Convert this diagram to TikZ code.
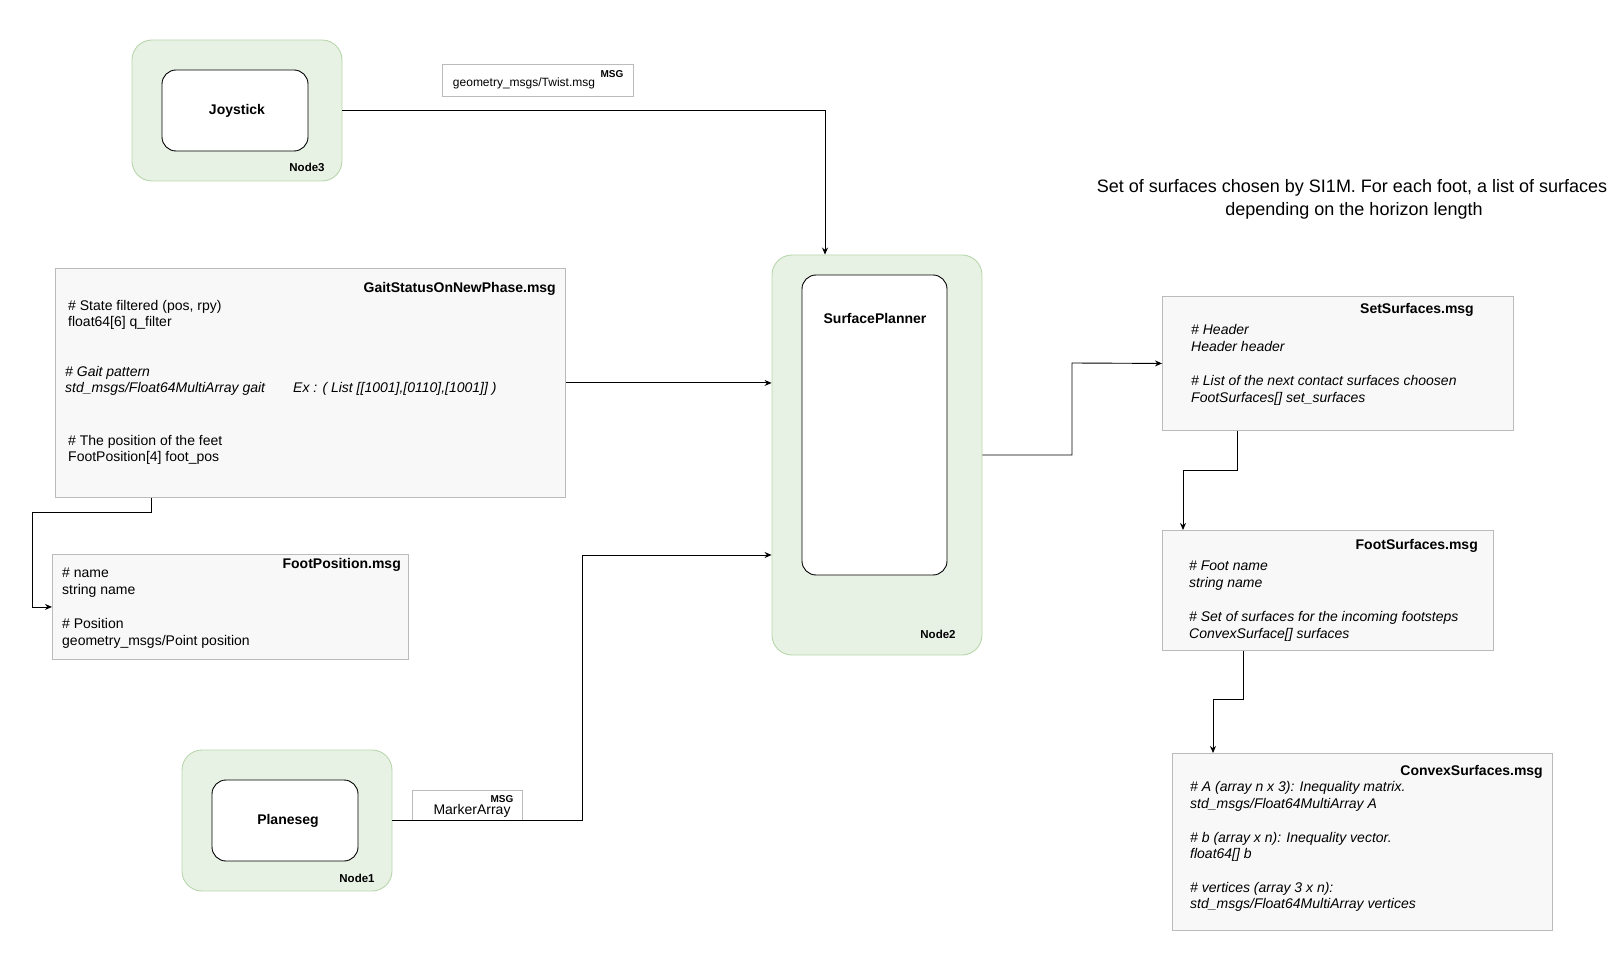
\documentclass[tikz,border=0pt]{standalone}
\usepackage{fontspec}
\setmainfont{Liberation Sans}
\usetikzlibrary{arrows.meta,calc}
\definecolor{grfill}{HTML}{E7F2E4}
\definecolor{grline}{HTML}{B7D6AC}
\definecolor{msgfill}{HTML}{F8F8F8}
\definecolor{msgline}{HTML}{BBBBBB}
\tikzset{
  hostbox/.style={draw=grline, fill=grfill, line width=0.9pt, rounded corners=20pt, minimum width=210pt, inner sep=0pt},
  procbox/.style={draw=black, fill=white, line width=0.9pt, rounded corners=14pt, inner sep=0pt},
  msgbox/.style={draw=msgline, fill=msgfill, line width=0.9pt, inner sep=0pt, anchor=north west},
  tagbox/.style={draw=msgline, fill=white, line width=0.9pt, inner sep=0pt},
  arr/.style={draw=black, line width=0.9pt, -{Stealth[length=7pt,width=6pt]}},
  txt/.style={inner sep=0pt, font=\fontsize{14}{17}\selectfont, anchor=base west},
  txti/.style={txt, font=\fontsize{14}{17}\selectfont\itshape},
  ttl/.style={inner sep=0pt, font=\fontsize{14}{17}\selectfont\bfseries, anchor=base east},
  lbl/.style={inner sep=0pt, font=\fontsize{14}{17}\selectfont\bfseries, anchor=base},
  hostlbl/.style={inner sep=0pt, font=\fontsize{11.5}{14}\selectfont\bfseries, anchor=base},
  msgtag/.style={inner sep=0pt, font=\fontsize{10}{12}\selectfont\bfseries, anchor=base},
}
\begin{document}
\begin{tikzpicture}[x=1pt,y=-1pt]
\useasboundingbox (0,0) rectangle (1615,957);

% host nodes
\node[hostbox, minimum height=141pt] (node3) at (237,110.5) {};
\node[procbox, minimum width=146pt, minimum height=81pt] (joy) at (235,110.5) {};
\node[lbl] (joyt) at (237,115) {Joystick};
\node[hostlbl] (node3t) at (307,172) {Node3};

\node[hostbox, minimum height=141pt] (node1) at (287,820.5) {};
\node[procbox, minimum width=146pt, minimum height=81pt] (plane) at (285,820.5) {};
\node[lbl] (planet) at (288,824) {Planeseg};
\node[hostlbl] (node1t) at (357,882) {Node1};

\node[hostbox, minimum height=400pt] (node2) at (877,455) {};
\node[procbox, minimum width=145pt, minimum height=300pt] (sp) at (874.5,425) {};
\node[lbl] (spt) at (875,324) {SurfacePlanner};
\node[hostlbl] (node2t) at (938,638) {Node2};

% topic tags
\node[tagbox, minimum width=191pt, minimum height=32pt] (twist) at (537.5,80) {};
\node[inner sep=0pt, font=\fontsize{12}{14}\selectfont, anchor=base] (twistt) at (524,87) {geometry\_msgs/Twist.msg};
\node[msgtag] (twistm) at (612,77.5) {MSG};

\node[tagbox, minimum width=110pt, minimum height=30pt] (marker) at (467,805) {};
\node[inner sep=0pt, font=\fontsize{14}{17}\selectfont, anchor=base] (markert) at (472,814) {MarkerArray};
\node[msgtag] (markerm) at (502,802.5) {MSG};

% message boxes
\node[msgbox, minimum width=510pt, minimum height=229pt] (gait) at (55,268) {};
\node[ttl] at (556,293) {GaitStatusOnNewPhase.msg};
\node[txt] at (68,311) {\# State filtered (pos, rpy)};
\node[txt] at (68,327) {float64[6] q\_filter};
\node[txti] at (65,377) {\# Gait pattern};
\node[txti] at (65,393) {std\_msgs/Float64MultiArray gait};
\node[txti] at (293,393) {Ex : ( List [[1001],[0110],[1001]] )};
\node[txt] at (68,446) {\# The position of the feet};
\node[txt] at (68,462) {FootPosition[4] foot\_pos};

\node[msgbox, minimum width=356pt, minimum height=105pt] (footpos) at (52,554) {};
\node[ttl] at (401,568) {FootPosition.msg};
\node[txt] at (62,577) {\# name};
\node[txt] at (62,594) {string name};
\node[txt] at (62,628) {\# Position};
\node[txt] at (62,645) {geometry\_msgs/Point position};

\node[msgbox, minimum width=351pt, minimum height=134pt] (setsurf) at (1162,296) {};
\node[ttl] at (1474,314) {SetSurfaces.msg};
\node[txti] at (1191,335) {\# Header};
\node[txti] at (1191,352) {Header header};
\node[txti] at (1191,386) {\# List of the next contact surfaces choosen};
\node[txti] at (1191,403) {FootSurfaces[] set\_surfaces};

\node[msgbox, minimum width=331pt, minimum height=120pt] (footsurf) at (1162,530) {};
\node[ttl] at (1478,549) {FootSurfaces.msg};
\node[txti] at (1189,570) {\# Foot name};
\node[txti] at (1189,587) {string name};
\node[txti] at (1189,621) {\# Set of surfaces for the incoming footsteps};
\node[txti] at (1189,638) {ConvexSurface[] surfaces};

\node[msgbox, minimum width=380pt, minimum height=177pt] (convex) at (1172,753) {};
\node[ttl] at (1543,775) {ConvexSurfaces.msg};
\node[txti] at (1190,791) {\# A (array n x 3): Inequality matrix.};
\node[txti] at (1190,808) {std\_msgs/Float64MultiArray A};
\node[txti] at (1190,842) {\# b (array x n): Inequality vector.};
\node[txti] at (1190,858) {float64[] b};
\node[txti] at (1190,892) {\# vertices (array 3 x n):};
\node[txti] at (1190,908) {std\_msgs/Float64MultiArray vertices};

% caption
\node[inner sep=0pt, font=\fontsize{18}{22}\selectfont, anchor=base] (cap1) at (1352,193) {Set of surfaces chosen by SI1M. For each foot, a list of surfaces};
\node[inner sep=0pt, font=\fontsize{18}{22}\selectfont, anchor=base] (cap2) at (1354,216) {depending on the horizon length};

% waypoints
\coordinate (w1) at (825,110.5);
\coordinate (w3) at (582,555);
\coordinate (w4a) at (151,512);
\coordinate (w4b) at (32,512);
\coordinate (w5) at (1072,363);
\coordinate (w6a) at (1237,470);
\coordinate (w6b) at (1183,470);
\coordinate (w7a) at (1243,699);
\coordinate (w7b) at (1213,699);

% connectors
\draw[arr] (node3.east) -- (w1) -- (w1 |- node2.north);
\draw[arr] (gait.east) -- (gait.east -| node2.west);
\draw[arr] (node1.east) -| (w3) -- (w3 -| node2.west);
\draw[arr] (gait.south -| w4a) -- (w4a) -- (w4b) |- (footpos.west);
\draw[arr] (node2.east) -| (w5) -- (setsurf.west);
\draw[arr] (setsurf.south -| w6a) -- (w6a) -- (w6b) -- (w6b |- footsurf.north);
\draw[arr] (footsurf.south -| w7a) -- (w7a) -- (w7b) -- (w7b |- convex.north);
\end{tikzpicture}
\end{document}
